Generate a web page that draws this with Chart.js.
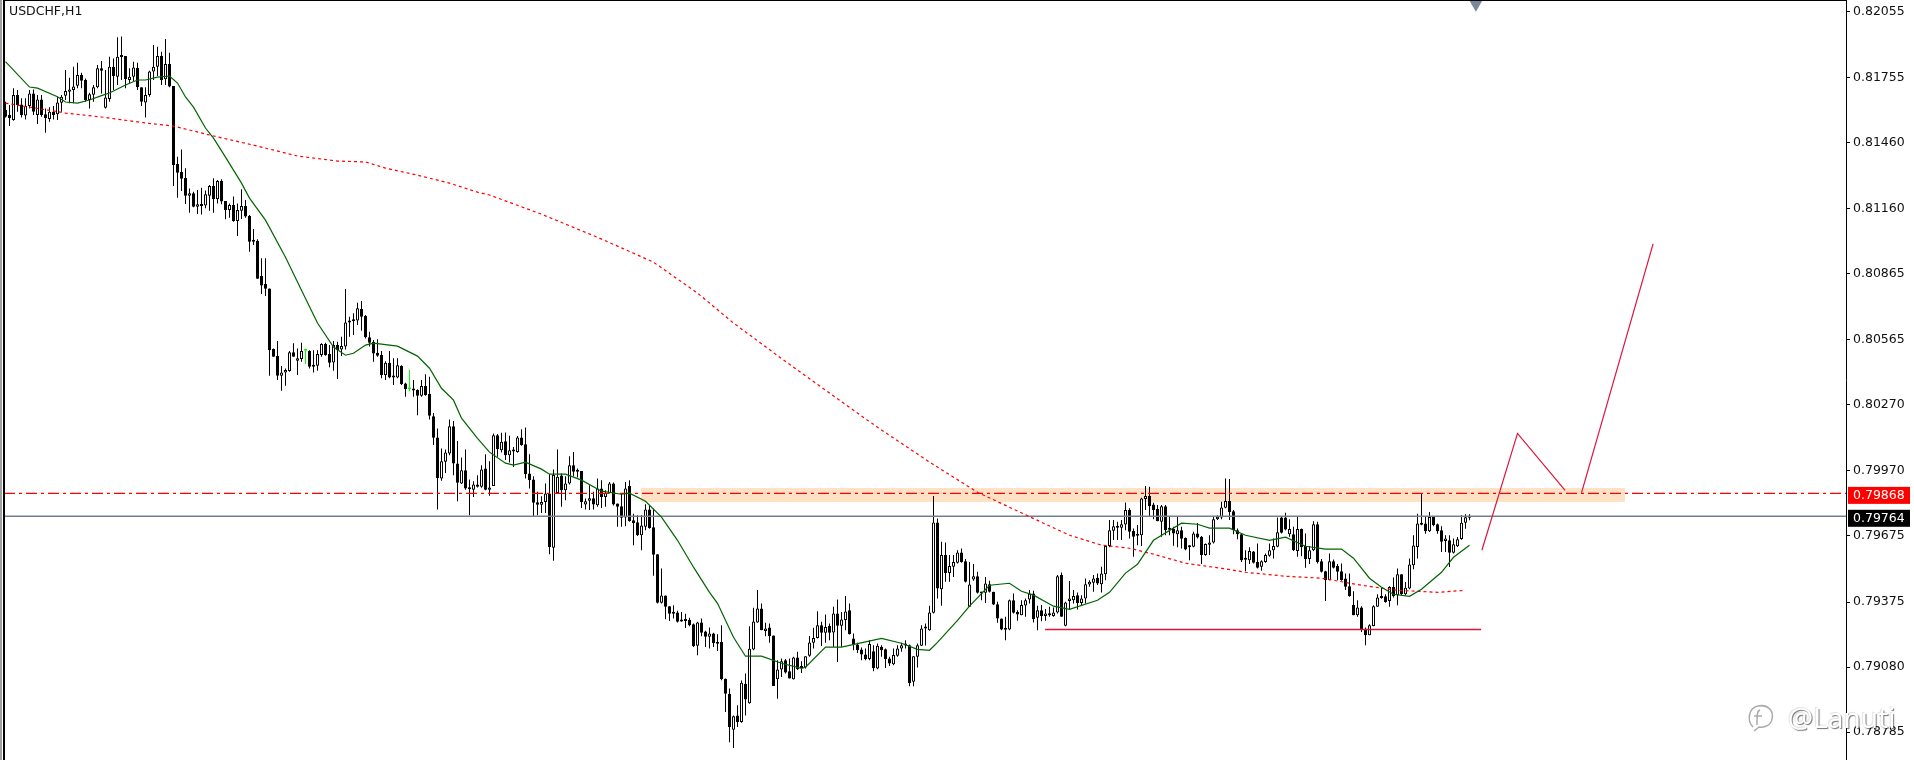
<!DOCTYPE html>
<html>
<head>
<meta charset="utf-8">
<title>USDCHF,H1</title>
<script src="https://cdn.jsdelivr.net/npm/chart.js@4/dist/chart.umd.js"></script>
<style>
  html, body { margin: 0; padding: 0; background: #fff; overflow: hidden; }
  #wrap { position: relative; width: 1914px; height: 760px; }
  #mark { position: absolute; left: 1745px; top: 696px; height: 42px; white-space: nowrap; display: flex; align-items: center; }
  #mark span { font: 28px "Noto Sans", sans-serif; margin-left: 13px; color: #fff; text-shadow: 1px 1px 1px rgba(0,0,0,.55), -1px -1px 1px rgba(0,0,0,.12); }
</style>
</head>
<body>
<div id="wrap">
  <canvas id="chart" width="1914" height="760"></canvas>
  <div id="mark">
    <svg width="30" height="32" viewBox="0 0 30 32"><path d="M8 26 C2 20 3 7 13 5 C23 3 29 10 27 18 C26 24 20 27 14 26 L9 30 M15 9 C12 10 12 14 12 24 M9 15 L17 15" fill="none" stroke="#aaa" stroke-width="1.5"/></svg>
    <span>@Lanuti</span>
  </div>
</div>
<script>
// prices are kept in 1/100000 (81645 = 0.81645)
const yTicks = [82055, 81755, 81460, 81160, 80865, 80565, 80270, 79970, 79675, 79375, 79080, 78785];
const symbol = 'USDCHF,H1';
const resistPrice = 79868;
const lastPrice = 79764;

const opens = [
  81608,81585,81562,81676,81633,81583,81626,81683,81585,81656,
  81589,81567,81600,81588,81641,81673,81691,81698,81718,81767,
  81744,81653,81677,81711,81797,81618,81658,81804,81759,81853,
  81853,81744,81759,81800,81711,81642,81676,81782,81804,81853,
  81747,81816,81717,81363,81327,81299,81219,81230,81169,81180,
  81174,81219,81263,81204,81286,81195,81154,81177,81104,81151,
  81172,81127,81015,81015,80854,80818,80798,80523,80491,80402,
  80417,80423,80509,80470,80478,80515,80515,80450,80447,80496,
  80546,80500,80462,80541,80521,80534,80650,80655,80652,80705,
  80673,80576,80556,80506,80496,80405,80461,80400,80394,80447,
  80367,80340,80341,80337,80311,80355,80319,80218,80122,79935,
  80011,80049,80173,80003,79913,79973,79893,79885,79908,79898,
  79981,79885,79902,80132,80064,80105,80041,80064,80056,80122,
  80091,79958,79931,79828,79816,79829,79867,79621,79870,79949,
  79882,79913,79996,79972,79969,79817,79834,79846,79814,79890,
  79852,79870,79913,79822,79810,79758,79901,79746,79737,79678,
  79716,79795,79714,79592,79372,79404,79356,79330,79327,79294,
  79294,79295,79274,79176,79282,79241,79217,79232,79194,79194,
  79027,78959,78795,78860,78830,79004,78916,79159,79282,79346,
  79243,79259,79223,79025,79069,79111,79061,79025,79123,79081,
  79078,79131,79190,79212,79270,79235,79267,79237,79323,79267,
  79293,79338,79209,79182,79159,79137,79116,79152,79073,79172,
  79161,79119,79093,79131,79164,79182,79179,79013,79126,79176,
  79259,79247,79326,79736,79433,79588,79507,79535,79553,79600,
  79560,79353,79477,79492,79420,79417,79456,79421,79365,79300,
  79256,79250,79383,79330,79315,79359,79386,79414,79303,79338,
  79312,79321,79311,79327,79497,79267,79380,79383,79406,79371,
  79391,79455,79462,79485,79456,79501,79629,79698,79719,79712,
  79727,79792,79697,79683,79678,79843,79856,79818,79797,79739,
  79810,79710,79706,79683,79701,79665,79629,79626,79686,79671,
  79588,79635,79645,79750,79759,79803,79833,79787,79701,79683,
  79573,79565,79604,79556,79535,79557,79585,79610,79626,79759,
  79759,79683,79683,79607,79706,79629,79570,79610,79728,79560,
  79515,79474,79560,79538,79515,79482,79447,79361,79315,79350,
  79254,79224,79266,79353,79401,79401,79380,79443,79406,79501,
  79410,79436,79542,79625,79734,79731,79696,79761,79728,79701,
  79652,79655,79598,79628,79661,79735,79757
];
const highs = [
  81645,81630,81706,81698,81661,81661,81698,81701,81676,81676,
  81615,81620,81626,81668,81676,81789,81754,81804,81822,81777,
  81751,81686,81721,81812,81830,81789,81850,81842,81938,81941,
  81853,81797,81827,81822,81711,81711,81786,81903,81895,81872,
  81930,81868,81717,81396,81429,81343,81252,81237,81245,81255,
  81242,81268,81298,81290,81293,81195,81184,81215,81184,81248,
  81199,81131,81068,81021,80935,80935,80798,80526,80559,80446,
  80435,80514,80549,80526,80552,80518,80518,80518,80518,80549,
  80552,80541,80559,80556,80579,80795,80670,80685,80733,80741,
  80677,80602,80564,80567,80514,80468,80514,80481,80481,80450,
  80370,80428,80382,80340,80382,80409,80397,80233,80162,80072,
  80067,80203,80197,80106,80031,80067,79931,79923,79950,79996,
  80046,80014,80140,80137,80143,80144,80129,80079,80128,80159,
  80167,80046,79946,79875,79855,79913,79955,79976,80067,79958,
  79946,80037,80056,79981,79970,79845,79905,79875,79935,79928,
  79882,79920,79917,79822,79867,79920,79928,79776,79769,79769,
  79819,79814,79799,79592,79527,79404,79356,79360,79335,79330,
  79322,79303,79277,79285,79300,79244,79259,79235,79229,79270,
  79028,78982,78860,78906,79019,79050,79265,79349,79429,79368,
  79281,79277,79223,79111,79119,79116,79119,79126,79149,79106,
  79129,79221,79258,79333,79285,79318,79277,79353,79386,79330,
  79402,79368,79232,79190,79169,79164,79202,79179,79187,79179,
  79164,79126,79164,79179,79190,79202,79182,79129,79187,79270,
  79277,79358,79856,79754,79648,79645,79588,79588,79610,79618,
  79570,79557,79547,79512,79421,79489,79471,79421,79376,79300,
  79308,79386,79414,79338,79383,79391,79429,79426,79358,79361,
  79343,79353,79350,79497,79509,79376,79470,79429,79418,79406,
  79482,79474,79497,79504,79535,79630,79747,79747,79739,79747,
  79827,79800,79709,79724,79848,79901,79898,79825,79815,79815,
  79815,79762,79716,79762,79716,79668,79633,79694,79734,79674,
  79641,79678,79762,79769,79830,79936,79933,79792,79709,79686,
  79610,79623,79607,79641,79565,79595,79641,79663,79759,79762,
  79780,79750,79716,79762,79709,79686,79629,79742,79739,79570,
  79517,79595,79568,79547,79550,79504,79504,79424,79383,79356,
  79259,79274,79360,79410,79440,79410,79446,79486,79527,79501,
  79466,79572,79678,79776,79867,79761,79784,79761,79731,79719,
  79678,79678,79663,79670,79769,79773,79773
];
const lows = [
  81574,81535,81559,81600,81574,81565,81615,81585,81544,81577,
  81505,81555,81565,81562,81600,81653,81638,81638,81706,81706,
  81645,81615,81645,81706,81683,81615,81645,81698,81721,81744,
  81706,81729,81739,81698,81626,81574,81668,81744,81762,81721,
  81721,81711,81263,81210,81240,81181,81142,81166,81136,81134,
  81162,81151,81142,81184,81180,81112,81119,81101,81036,81113,
  81119,80965,80995,80842,80773,80764,80402,80488,80382,80334,
  80356,80420,80488,80405,80465,80455,80435,80416,80425,80488,
  80493,80440,80425,80387,80491,80521,80579,80587,80632,80606,
  80571,80534,80465,80488,80390,80382,80390,80360,80390,80360,
  80307,80332,80307,80223,80307,80311,80203,80087,79795,79925,
  79961,80041,79950,79832,79910,79885,79769,79852,79895,79893,
  79882,79857,79901,80034,80053,80019,80008,79988,80052,80084,
  79935,79890,79764,79769,79779,79779,79592,79562,79867,79807,
  79837,79908,79946,79940,79802,79795,79792,79795,79807,79802,
  79807,79867,79813,79716,79716,79719,79739,79633,79675,79610,
  79701,79708,79494,79368,79368,79297,79289,79300,79282,79285,
  79257,79265,79171,79133,79220,79171,79164,79171,79153,79020,
  78876,78739,78712,78808,78827,78860,78913,79156,79281,79247,
  79220,79190,78994,78936,79035,79050,79028,79023,79066,79053,
  79073,79126,79164,79209,79175,79190,79202,79172,79103,79172,
  79247,79228,79156,79144,79111,79111,79111,79061,79070,79126,
  79076,79085,79088,79126,79149,79164,78993,78993,79078,79175,
  79178,79244,79323,79391,79358,79467,79467,79489,79550,79553,
  79464,79353,79471,79414,79383,79371,79418,79361,79281,79247,
  79202,79247,79323,79290,79315,79308,79368,79282,79247,79288,
  79290,79308,79308,79323,79308,79265,79341,79368,79341,79361,
  79368,79444,79421,79452,79418,79474,79623,79656,79656,79656,
  79701,79663,79580,79633,79629,79792,79762,79750,79742,79671,
  79678,79678,79630,79623,79618,79610,79565,79623,79663,79547,
  79585,79588,79641,79747,79750,79800,79747,79683,79660,79557,
  79515,79547,79550,79527,79517,79553,79580,79573,79623,79686,
  79701,79671,79607,79580,79583,79530,79547,79607,79550,79509,
  79380,79474,79527,79474,79471,79429,79399,79315,79308,79239,
  79179,79224,79265,79353,79390,79372,79353,79395,79360,79406,
  79406,79433,79524,79572,79723,79685,79693,79719,79685,79602,
  79602,79534,79595,79625,79658,79708,79746
];
const closes = [
  81577,81570,81676,81630,81585,81626,81683,81600,81656,81585,
  81570,81600,81585,81642,81668,81694,81701,81714,81767,81741,
  81653,81679,81711,81797,81786,81664,81804,81762,81850,81848,
  81747,81759,81801,81711,81645,81676,81782,81804,81853,81744,
  81816,81714,81358,81323,81296,81219,81230,81169,81180,81172,
  81225,81263,81204,81286,81192,81154,81177,81104,81154,81172,
  81124,81010,81010,80842,80811,80797,80518,80488,80402,80417,
  80428,80509,80488,80481,80514,80515,80443,80443,80500,80546,
  80496,80461,80541,80518,80537,80644,80644,80649,80708,80670,
  80576,80552,80503,80493,80405,80461,80394,80394,80450,80364,
  80341,80340,80335,80311,80355,80314,80220,80120,79938,80014,
  80053,80173,80003,79916,79973,79890,79887,79908,79898,79976,
  79885,79895,80132,80069,80102,80041,80064,80058,80122,80087,
  79955,79928,79825,79816,79829,79867,79625,79951,79943,79882,
  79913,79996,79966,79966,79829,79832,79846,79817,79890,79852,
  79870,79913,79817,79807,79757,79890,79743,79734,79678,79722,
  79795,79711,79590,79372,79404,79353,79322,79322,79285,79286,
  79289,79270,79174,79282,79235,79217,79232,79189,79186,79025,
  78959,78808,78856,78830,79009,78932,79163,79287,79346,79247,
  79255,79220,78994,79069,79106,79055,79028,79123,79070,79075,
  79129,79191,79212,79270,79235,79262,79235,79323,79267,79296,
  79332,79229,79182,79156,79137,79116,79184,79076,79176,79156,
  79116,79096,79134,79164,79179,79178,79008,79129,79179,79255,
  79255,79327,79736,79436,79588,79507,79538,79557,79600,79557,
  79467,79455,79492,79417,79414,79459,79421,79364,79300,79250,
  79249,79383,79326,79318,79361,79383,79414,79297,79338,79311,
  79323,79315,79327,79492,79308,79373,79391,79402,79371,79391,
  79456,79467,79482,79459,79504,79629,79701,79719,79712,79728,
  79792,79694,79671,79676,79845,79856,79810,79792,79742,79810,
  79701,79703,79686,79701,79662,79613,79623,79686,79668,79588,
  79638,79645,79751,79762,79804,79833,79784,79701,79682,79565,
  79567,79606,79553,79530,79560,79588,79610,79629,79691,79689,
  79704,79706,79610,79706,79623,79570,79610,79728,79557,79512,
  79474,79560,79530,79512,79474,79444,79402,79315,79350,79250,
  79224,79269,79356,79395,79393,79375,79443,79401,79501,79410,
  79440,79545,79631,79731,79726,79696,79761,79723,79696,79648,
  79663,79598,79637,79660,79735,79760,79764
];

// moving averages, read at these bar numbers
const fastBars = [0,6,8,13,15,18,21,24,26,30,33,35,38,41,43,45,47,50,52,55,59,61,65,70,74,78,82,85,87,90,92,98,103,106,109,112,114,118,121,125,127,130,134,136,140,144,149,154,156,160,164,168,172,176,178,182,185,189,194,199,200,205,209,219,224,228,231,233,238,241,246,251,254,257,262,266,273,276,280,283,287,294,298,301,306,310,316,320,325,330,334,337,341,344,347,351,354,359,362,366];
const fastMa = [81827,81712,81707,81668,81644,81639,81653,81673,81685,81721,81744,81744,81757,81762,81730,81667,81621,81526,81480,81394,81276,81208,81108,80940,80790,80641,80532,80495,80504,80541,80550,80536,80491,80436,80345,80291,80209,80118,80055,80005,79996,80010,79978,79955,79955,79928,79878,79864,79869,79832,79760,79655,79533,79419,79369,79215,79129,79129,79097,79074,79079,79170,79170,79210,79188,79160,79156,79192,79292,79356,79451,79460,79424,79406,79356,79342,79383,79419,79506,79546,79655,79733,79728,79710,79710,79678,79655,79669,79628,79615,79615,79574,79483,79442,79410,79401,79433,79510,79578,79633];
const slowBars = [0,15,24,35,42,52,63,73,83,90,95,103,111,118,121,134,148,157,162,173,182,194,206,218,231,243,259,266,274,281,287,295,304,310,320,329,339,348,358,365];
const slowMa = [81639,81594,81576,81549,81535,81490,81444,81399,81376,81372,81344,81312,81276,81235,81222,81135,81030,80958,80917,80777,80641,80480,80323,80168,80010,79873,79737,79678,79633,79619,79592,79551,79528,79510,79492,79483,79451,79428,79419,79428];

// drawn objects
const zoneBars = [158.9, 404.9];
const zoneTop = 79892;
const zoneBottom = 79829;
const supportBars = [259.9, 368.9];
const supportPrice = 79250;
const legOneBars = [369.1, 378, 389.9];
const legOnePrices = [79610, 80140, 79882];
const legTwoBars = [394, 411.9];
const legTwoPrices = [79870, 81000];
const shiftBar = 367.6;

// 4px per bar, first bar centre on 5.5
const xMin = -0.375;
const xMax = 460.125;
const yMin = 78658;
const yMax = 82107;

const pairs = (xs, ys) => xs.map((x, i) => ({ x: x, y: ys[i] }));
const fullWidth = price => [{ x: xMin, y: price }, { x: xMax, y: price }];
const LABEL_FONT = '12.5px "DejaVu Sans", sans-serif';

const lineSet = (data, color, order, extra) => Object.assign({
  type: 'line', data: data, borderColor: color, borderWidth: 1.2,
  pointRadius: 0, tension: 0, fill: false, order: order
}, extra);

const candleColor = i => closes[i] === opens[i] ? '#00ff00' : '#000';
const bodyColor = i => closes[i] === opens[i] ? '#00ff00' : (closes[i] > opens[i] ? '#fff' : '#000');

const frame = {
  id: 'frame',
  beforeDraw(chart) {
    const c = chart.ctx;
    c.save();
    c.fillStyle = '#fff';
    c.fillRect(0, 0, chart.width, chart.height);
    c.fillStyle = '#a0a0a0';
    c.fillRect(0, 0, 2, chart.height);
    c.restore();
  },
  afterDraw(chart) {
    const c = chart.ctx;
    const a = chart.chartArea;
    const y = chart.scales.y;
    c.save();
    c.fillStyle = '#000';
    c.fillRect(a.left - 1, 0, 2, chart.height);
    c.fillRect(a.left, 0, a.right - a.left, 1);

    // symbol caption
    c.font = LABEL_FONT;
    c.textBaseline = 'middle';
    c.fillStyle = '#111';
    c.fillText(symbol, 9, 12);

    // price boxes on the axis
    [[resistPrice, '#ff0000'], [lastPrice, '#000']].forEach(([price, color]) => {
      const py = y.getPixelForValue(price) + 2;
      c.fillStyle = color;
      c.fillRect(a.right + 2, py - 8.5, 62, 17);
      c.fillStyle = '#fff';
      c.fillText((price / 100000).toFixed(5), a.right + 7, py);
    });
    c.restore();
  }
};

new Chart(document.getElementById('chart'), {
  data: {
    datasets: [
      lineSet([{ x: shiftBar, y: 82090 }], '#778899', 0, {
        pointRadius: 8, pointStyle: 'triangle', rotation: 180,
        pointBackgroundColor: '#778899', pointBorderWidth: 0, clip: false
      }),
      lineSet(pairs(fastBars, fastMa), '#006400', 1),
      lineSet(pairs(slowBars, slowMa), '#ff0000', 1, { borderDash: [3, 3] }),
      lineSet(pairs(legOneBars, legOnePrices), '#dc143c', 1),
      lineSet(pairs(legTwoBars, legTwoPrices), '#dc143c', 1),
      lineSet(pairs(supportBars, [supportPrice, supportPrice]), '#dc143c', 1, { borderWidth: 1.5 }),
      lineSet(fullWidth(resistPrice), '#ff0000', 2, { borderWidth: 1.4, borderDash: [11, 4, 3, 4] }),
      lineSet(fullWidth(lastPrice), '#708090', 3, { borderWidth: 1.4 }),
      {
        type: 'bar', order: 4, grouped: false, barThickness: 3, minBarLength: 2,
        inflateAmount: 0, borderWidth: 1, borderSkipped: false,
        data: opens.map((o, i) => ({ x: i, y: [o, closes[i]] })),
        backgroundColor: opens.map((o, i) => bodyColor(i)),
        borderColor: opens.map((o, i) => candleColor(i))
      },
      {
        type: 'bar', order: 5, grouped: false, barThickness: 1,
        inflateAmount: 0, borderWidth: 0,
        data: highs.map((h, i) => ({ x: i, y: [lows[i], h] })),
        backgroundColor: highs.map((h, i) => candleColor(i))
      },
      lineSet(pairs(zoneBars, [zoneTop, zoneTop]), 'rgba(0,0,0,0)', 6, {
        borderWidth: 0, fill: { value: zoneBottom }, backgroundColor: '#ffe2c6'
      })
    ]
  },
  options: {
    responsive: false,
    animation: false,
    layout: { autoPadding: false, padding: { left: 4, right: 0, top: 0, bottom: 0 } },
    plugins: { legend: { display: false }, tooltip: { enabled: false }, title: { display: false } },
    scales: {
      x: { type: 'linear', display: false, offset: false, min: xMin, max: xMax },
      y: {
        position: 'right',
        min: yMin,
        max: yMax,
        afterBuildTicks: s => { s.ticks = yTicks.map(v => ({ value: v })); },
        afterFit: s => { s.width = 68; s.paddingTop = 0; s.paddingBottom = 0; },
        grid: { drawOnChartArea: false, drawTicks: true, tickLength: 4, tickColor: '#000' },
        border: { display: true, color: '#000', width: 1 },
        ticks: {
          autoSkip: false,
          padding: 3,
          color: '#111',
          font: { family: '"DejaVu Sans", sans-serif', size: 12.5 },
          callback: v => (v / 100000).toFixed(5)
        }
      }
    }
  },
  plugins: [frame]
});
</script>
</body>
</html>
